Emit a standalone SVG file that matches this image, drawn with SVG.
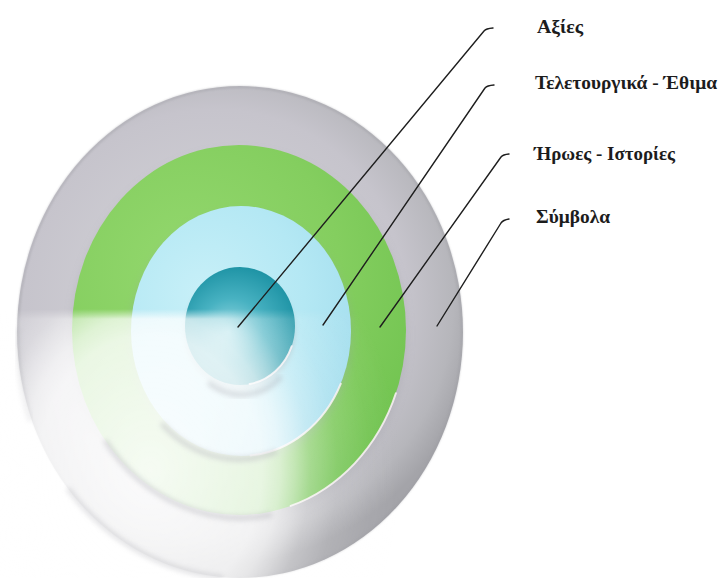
<svg xmlns="http://www.w3.org/2000/svg" width="718" height="578" viewBox="0 0 718 578">
<style>
.lbl{font-family:"Liberation Serif","Times New Roman",serif;font-weight:bold;font-size:18px;fill:#1c1c1c}
.con{fill:none;stroke:#1e1e1e;stroke-width:1.4;stroke-linecap:round;stroke-linejoin:round}
.shd{fill:none;stroke:#a4a4ac;stroke-width:5;stroke-linecap:round;filter:url(#blur3);opacity:0.35}
.hi{fill:none;stroke:#fbf2f6;stroke-width:2;stroke-linecap:round;opacity:0.85}
</style>
<defs>
<filter id="blur2" x="-20%" y="-20%" width="140%" height="140%"><feGaussianBlur stdDeviation="1.2"/></filter>
<filter id="blur3" x="-20%" y="-20%" width="140%" height="140%"><feGaussianBlur stdDeviation="2.5"/></filter>
<filter id="blur5" x="-20%" y="-20%" width="140%" height="140%"><feGaussianBlur stdDeviation="5"/></filter>
<radialGradient id="gGray" gradientUnits="userSpaceOnUse" cx="215" cy="300" r="265">
<stop offset="0" stop-color="#d6d6da"/><stop offset="0.72" stop-color="#c6c4cc"/><stop offset="0.9" stop-color="#b6b6bb"/><stop offset="1" stop-color="#a4a4a9"/>
</radialGradient>
<radialGradient id="gGreen" gradientUnits="userSpaceOnUse" cx="190" cy="270" r="250">
<stop offset="0" stop-color="#94d86e"/><stop offset="0.6" stop-color="#84ce5f"/><stop offset="1" stop-color="#72c451"/>
</radialGradient>
<radialGradient id="gBlue" gradientUnits="userSpaceOnUse" cx="205" cy="295" r="165">
<stop offset="0" stop-color="#c8f0f8"/><stop offset="0.6" stop-color="#b4e8f4"/><stop offset="1" stop-color="#a4deee"/>
</radialGradient>
<radialGradient id="gTeal" gradientUnits="userSpaceOnUse" cx="236" cy="330" r="72" fx="228" fy="332">
<stop offset="0" stop-color="#9adae4"/><stop offset="0.45" stop-color="#48b2c2"/><stop offset="1" stop-color="#148c9e"/>
</radialGradient>
<radialGradient id="glare" gradientUnits="userSpaceOnUse" cx="0" cy="0" r="1" gradientTransform="translate(150 470) scale(250 300)">
<stop offset="0" stop-color="#ffffff" stop-opacity="0.93"/>
<stop offset="0.45" stop-color="#ffffff" stop-opacity="0.83"/>
<stop offset="0.52" stop-color="#ffffff" stop-opacity="0.73"/>
<stop offset="0.58" stop-color="#ffffff" stop-opacity="0.56"/>
<stop offset="0.64" stop-color="#ffffff" stop-opacity="0.36"/>
<stop offset="0.75" stop-color="#ffffff" stop-opacity="0.16"/>
<stop offset="0.88" stop-color="#ffffff" stop-opacity="0.05"/>
<stop offset="1" stop-color="#ffffff" stop-opacity="0"/>
</radialGradient>
<linearGradient id="vramp" gradientUnits="userSpaceOnUse" x1="0" y1="309" x2="0" y2="319">
<stop offset="0" stop-color="#000"/><stop offset="1" stop-color="#fff"/>
</linearGradient>
<mask id="glareMask"><rect width="718" height="578" fill="url(#vramp)"/></mask>
</defs>
<rect width="718" height="578" fill="#ffffff"/>
<g id="ring-symbols">
<ellipse cx="240" cy="332" rx="223" ry="246" fill="url(#gGray)"/>
<ellipse cx="240" cy="332" rx="222" ry="245" fill="none" stroke="#9c9ca2" stroke-width="1.5" opacity="0.6" filter="url(#blur2)"/>
</g>
<g id="ring-rituals">
<ellipse cx="239" cy="336" rx="167" ry="185" fill="#9a9aa2" opacity="0.35" filter="url(#blur5)"/>
<ellipse cx="239" cy="330" rx="167" ry="185" fill="url(#gGreen)"/>
<path class="hi" d="M395.9 393.3 A167 185 0 0 1 290.6 505.9"/>
</g>
<g id="ring-heroes">
<ellipse cx="241" cy="337" rx="110" ry="125" fill="#98a2a8" opacity="0.35" filter="url(#blur5)"/>
<ellipse cx="241" cy="331" rx="110" ry="125" fill="url(#gBlue)"/>
<path class="hi" d="M340.7 383.8 A110 125 0 0 1 250.6 455.5"/>
</g>
<g id="ring-values">
<ellipse cx="240" cy="332" rx="55" ry="59" fill="#98a2a8" opacity="0.4" filter="url(#blur3)"/>
<ellipse cx="240" cy="326" rx="55" ry="59" fill="url(#gTeal)"/>
<path class="hi" d="M291.7 346.2 A55 59 0 0 1 249.6 384.1"/>
</g>
<g id="glare-layer">
<rect width="718" height="578" fill="url(#glare)" mask="url(#glareMask)"/>
<path class="shd" d="M210 384 A55 59 0 0 0 280 378"/>
<path class="shd" d="M163 425 A110 125 0 0 0 275 452"/>
<path class="shd" d="M106 442 A167 185 0 0 0 270 515"/>
<path class="shd" style="opacity:0.3" d="M69 490 A223 246 0 0 0 221 577"/>
<path class="shd" style="opacity:0.2;stroke-width:4" d="M18 330 A223 246 0 0 0 30 420"/>
</g>
<g id="connectors">
<path class="con" d="M238 327 L484 31 Q486 28.5 493 28"/>
<path class="con" d="M323 325 L485 88 Q487 85.5 494 85"/>
<path class="con" d="M380 327 L501 157 Q503 154.5 509 154"/>
<path class="con" d="M437 326 L501 223 Q503 220 509 219"/>
</g>
<g id="label-values"><text class="lbl" x="537" y="33" textLength="46" lengthAdjust="spacingAndGlyphs">Αξίες</text></g>
<g id="label-rituals"><text class="lbl" x="535" y="89" textLength="182" lengthAdjust="spacingAndGlyphs">Τελετουργικά - Έθιμα</text></g>
<g id="label-heroes"><text class="lbl" x="534" y="160" textLength="141" lengthAdjust="spacingAndGlyphs">Ήρωες - Ιστορίες</text></g>
<g id="label-symbols"><text class="lbl" x="536" y="223" textLength="74" lengthAdjust="spacingAndGlyphs">Σύμβολα</text></g>
</svg>
